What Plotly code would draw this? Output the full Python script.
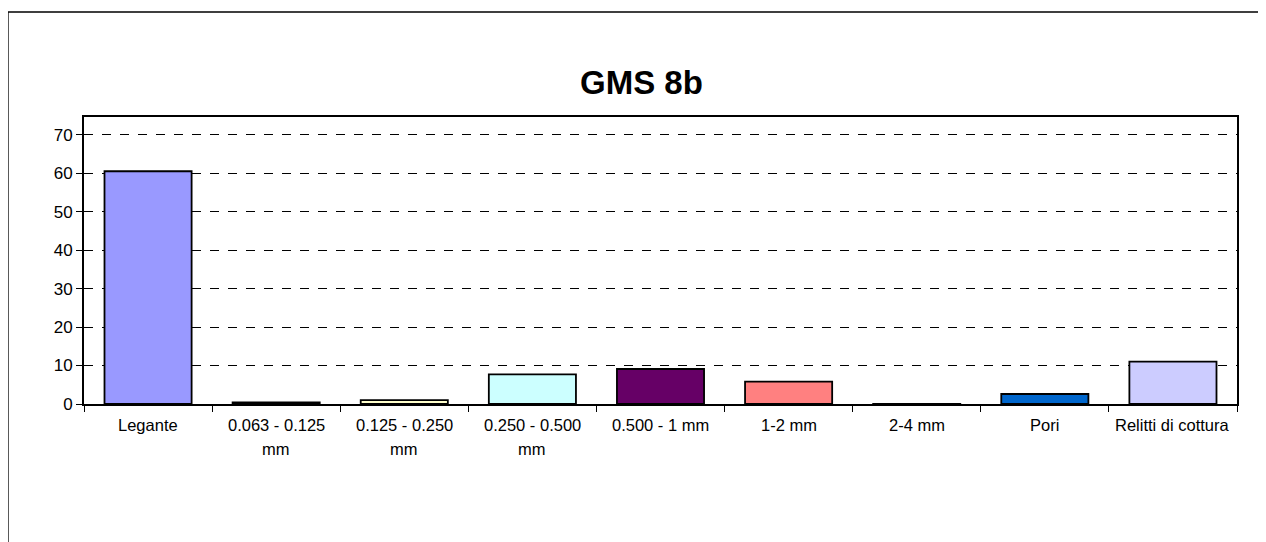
import plotly.graph_objects as go

categories = ["Legante", "0.063 - 0.125 mm", "0.125 - 0.250 mm", "0.250 - 0.500 mm",
              "0.500 - 1 mm", "1-2 mm", "2-4 mm", "Pori", "Relitti di cottura"]
label_line1 = ["Legante", "0.063 - 0.125", "0.125 - 0.250", "0.250 - 0.500",
               "0.500 - 1 mm", "1-2 mm", "2-4 mm", "Pori", "Relitti di cottura"]
label_line2 = ["", "mm", "mm", "mm", "", "", "", "", ""]
values = [60.5, 0.4, 1.0, 7.7, 9.1, 5.8, 0.05, 2.6, 11.0]
colors = ["#9999FF", "#993366", "#FFFFCC", "#CCFFFF", "#660066",
          "#FF8080", "#0066CC", "#0066CC", "#CCCCFF"]
y_ticks = [0, 10, 20, 30, 40, 50, 60, 70]
title = "GMS 8b"

FONT = "Liberation Sans, Arial, sans-serif"

# page is offset by the 8px body margin
W, H = 1258, 534
L, T = 76, 109
PW = 1237 - 8 - L   # plot width
PH = 396 - T        # plot height

fig = go.Figure()
fig.add_trace(go.Bar(
    x=categories, y=values,
    marker=dict(color=colors, line=dict(color="black", width=1.8)),
    width=0.68,
))

annotations = []
for c, l1, l2 in zip(categories, label_line1, label_line2):
    annotations.append(dict(x=c, y=0, xref="x", yref="paper", text=l1, showarrow=False,
                            yanchor="middle", yshift=-21,
                            font=dict(family=FONT, size=16.5, color="black")))
    if l2:
        annotations.append(dict(x=c, y=0, xref="x", yref="paper", text=l2, showarrow=False,
                                yanchor="middle", yshift=-45,
                                font=dict(family=FONT, size=16.5, color="black")))
annotations.append(dict(x=(633.5 - L) / PW, y=1, xref="paper", yref="paper",
                        text="<b>" + title + "</b>",
                        showarrow=False, yanchor="middle", yshift=35,
                        font=dict(family=FONT, size=33, color="black")))

fig.update_layout(
    width=W, height=H,
    margin=dict(l=L, r=W - L - PW, t=T, b=H - T - PH, pad=0),
    paper_bgcolor="white", plot_bgcolor="white",
    showlegend=False,
    annotations=annotations,
    shapes=[dict(type="rect", xref="paper", yref="paper",
                 x0=(0 - L) / PW, x1=1.2, y0=-0.8, y1=(T + PH - 4) / PH,
                 line=dict(color="black", width=1.3), fillcolor="rgba(0,0,0,0)", layer="below")],
    xaxis=dict(
        showticklabels=False, tickson="boundaries", ticks="outside", ticklen=6,
        tickcolor="black", showline=True, linecolor="black", linewidth=1.5, mirror=True,
        showgrid=False, range=[-0.5, 8.5],
    ),
    yaxis=dict(
        range=[0, 74.6], tickvals=y_ticks, ticks="outside", ticklen=6, tickcolor="black",
        showline=True, linecolor="black", linewidth=2, mirror=True,
        showgrid=True, gridcolor="black", gridwidth=1, griddash="dash",
        zeroline=False, tickfont=dict(family=FONT, size=17, color="black"),
    ),
)

fig.write_html("out.html")
